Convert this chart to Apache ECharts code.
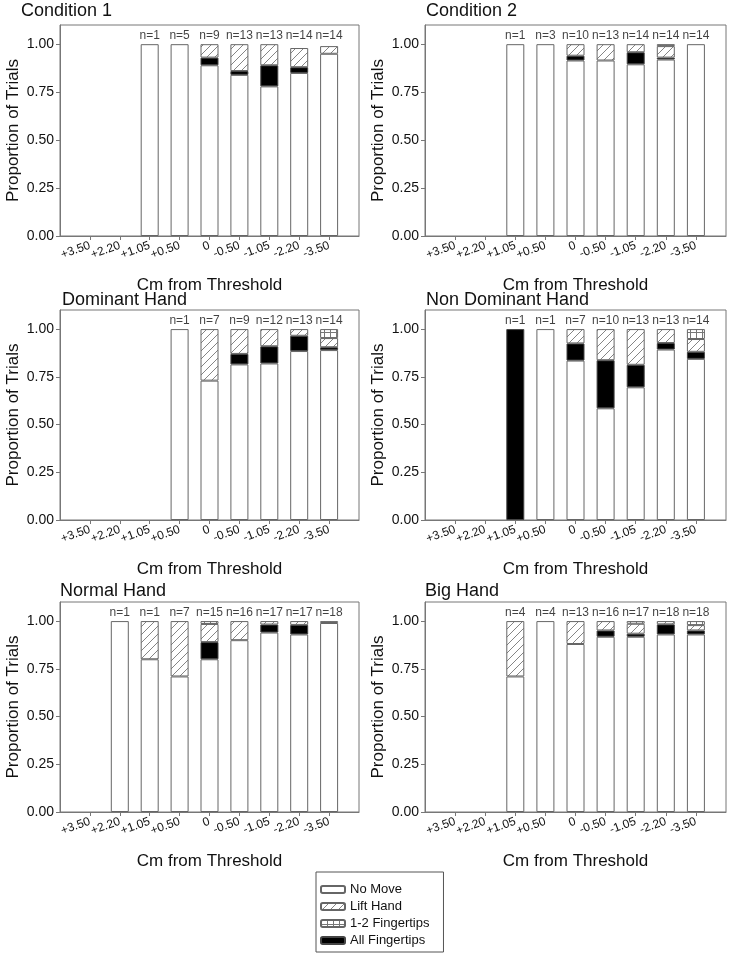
<!DOCTYPE html>
<html><head><meta charset="utf-8">
<script src="https://cdn.jsdelivr.net/npm/echarts@6/dist/echarts.min.js"></script>
<style>html,body{margin:0;padding:0;background:#fff}#c{width:750px;height:959px}</style>
</head><body><div id="c"></div>
<script>
// ---- data ----
const categories = ['+3.50','+2.20','+1.05','+0.50','0','-0.50','-1.05','-2.20','-3.50'];
const legendOrder = ['No Move','Lift Hand','1-2 Fingertips','All Fingertips'];
const panelTitles = ['Condition 1','Condition 2','Dominant Hand','Non Dominant Hand','Normal Hand','Big Hand'];

const cond1NoMove        = [0,0,1,1,0.89,0.84,0.78,0.85,0.95];
const cond1AllFingertips = [0,0,0,0,0.04,0.02,0.11,0.03,0];
const cond1LiftHand      = [0,0,0,0,0.07,0.14,0.11,0.10,0.04];
const cond1Fingertips12  = [0,0,0,0,0,0,0,0,0];
const cond1N             = [null,null,1,5,9,13,13,14,14];

const cond2NoMove        = [0,0,1,1,0.915,0.915,0.895,0.92,1];
const cond2AllFingertips = [0,0,0,0,0.025,0,0.063,0.01,0];
const cond2LiftHand      = [0,0,0,0,0.06,0.085,0.042,0.06,0];
const cond2Fingertips12  = [0,0,0,0,0,0,0,0.01,0];
const cond2N             = [null,null,1,3,10,13,14,14,14];

const domNoMove          = [0,0,0,1,0.73,0.815,0.82,0.885,0.89];
const domAllFingertips   = [0,0,0,0,0,0.055,0.09,0.08,0.015];
const domLiftHand        = [0,0,0,0,0.27,0.13,0.09,0.035,0.048];
const domFingertips12    = [0,0,0,0,0,0,0,0,0.047];
const domN               = [null,null,null,1,7,9,12,13,14];

const nonDomNoMove        = [0,0,0,1,0.835,0.585,0.695,0.893,0.844];
const nonDomAllFingertips = [0,0,1,0,0.09,0.252,0.118,0.034,0.037];
const nonDomLiftHand      = [0,0,0,0,0.075,0.163,0.187,0.073,0.067];
const nonDomFingertips12  = [0,0,0,0,0,0,0,0,0.052];
const nonDomN             = [null,null,1,1,7,10,13,13,14];

const normNoMove         = [0,1,0.8,0.71,0.8,0.9,0.94,0.93,0.99];
const normAllFingertips  = [0,0,0,0,0.09,0,0.042,0.05,0];
const normLiftHand       = [0,0,0.2,0.29,0.095,0.1,0.018,0.02,0];
const normFingertips12   = [0,0,0,0,0.015,0,0,0,0.01];
const normN              = [null,1,1,7,15,16,17,17,18];

const bigNoMove          = [0,0,0.71,1,0.88,0.918,0.918,0.93,0.93];
const bigAllFingertips   = [0,0,0,0,0,0.033,0.016,0.053,0.021];
const bigLiftHand        = [0,0,0.29,0,0.12,0.049,0.052,0.017,0.028];
const bigFingertips12    = [0,0,0,0,0,0,0.014,0,0.021];
const bigN               = [null,null,4,4,13,16,17,18,18];

const panels = [
  {noMove: cond1NoMove, all: cond1AllFingertips, lift: cond1LiftHand, f12: cond1Fingertips12, n: cond1N},
  {noMove: cond2NoMove, all: cond2AllFingertips, lift: cond2LiftHand, f12: cond2Fingertips12, n: cond2N},
  {noMove: domNoMove, all: domAllFingertips, lift: domLiftHand, f12: domFingertips12, n: domN},
  {noMove: nonDomNoMove, all: nonDomAllFingertips, lift: nonDomLiftHand, f12: nonDomFingertips12, n: nonDomN},
  {noMove: normNoMove, all: normAllFingertips, lift: normLiftHand, f12: normFingertips12, n: normN},
  {noMove: bigNoMove, all: bigAllFingertips, lift: bigLiftHand, f12: bigFingertips12, n: bigN}
];

// ---- patterns ----
function hatchCanvas() {
  const c = document.createElement('canvas'); c.width = 8; c.height = 8;
  const g = c.getContext('2d');
  g.fillStyle = '#fff'; g.fillRect(0,0,8,8);
  g.strokeStyle = '#777'; g.lineWidth = 0.9;
  g.beginPath();
  g.moveTo(-1,9); g.lineTo(9,-1);
  g.moveTo(-1,1); g.lineTo(1,-1);
  g.moveTo(7,9); g.lineTo(9,7);
  g.stroke();
  return c;
}
function gridCanvas() {
  const c = document.createElement('canvas'); c.width = 6; c.height = 8;
  const g = c.getContext('2d');
  g.fillStyle = '#fff'; g.fillRect(0,0,6,8);
  g.strokeStyle = '#777'; g.lineWidth = 1;
  g.beginPath();
  g.moveTo(0.5,0); g.lineTo(0.5,8);
  g.moveTo(0,4.5); g.lineTo(6,4.5);
  g.stroke();
  return c;
}
const hatchPattern = {image: hatchCanvas(), repeat: 'repeat'};
const gridPattern = {image: gridCanvas(), repeat: 'repeat'};

// ---- layout ----
const colLeft = [60, 425], colWidth = [299, 301];
const rowTop = [25, 310, 602], rowHeight = [211, 210, 210];
const titleLeft = [21, 426, 62, 426, 60, 425];
const titleTop = [2, 2, 291, 291, 582, 582];

const axisGray = '#777';
const textColor = '#111';
const FONT = 'Liberation Sans, Arial, sans-serif';
const xData = [''].concat(categories, ['']);
const pad = arr => ['-'].concat(arr.map(v => (v === 0 || v === null) ? '-' : v), ['-']);

const grid = [], xAxis = [], yAxis = [], series = [], title = [];
panels.forEach((p, i) => {
  const col = i % 2, row = Math.floor(i / 2);
  grid.push({left: colLeft[col], top: rowTop[row], width: colWidth[col], height: rowHeight[row],
    show: true, borderColor: axisGray, borderWidth: 1, backgroundColor: 'transparent', containLabel: false});
  title.push({text: panelTitles[i], left: titleLeft[i], top: titleTop[i], padding: 0,
    textStyle: {fontFamily: FONT, fontSize: 18, fontWeight: 'normal', color: textColor}});
  xAxis.push({type: 'category', gridIndex: i, data: xData, boundaryGap: false,
    axisLine: {lineStyle: {color: axisGray, width: 1}},
    axisTick: {show: true, length: 4, lineStyle: {color: axisGray},
      interval: idx => idx > 0 && idx < xData.length - 1},
    axisLabel: {interval: 0, rotate: 20, fontSize: 12, color: textColor, margin: 9, fontFamily: FONT},
    splitLine: {show: false},
    name: 'Cm from Threshold', nameLocation: 'middle', nameGap: 41,
    nameTextStyle: {fontSize: 17, color: textColor, fontFamily: FONT}});
  yAxis.push({type: 'value', gridIndex: i, min: 0, max: 1.1, interval: 0.25,
    axisLine: {show: true, lineStyle: {color: axisGray, width: 1}},
    axisTick: {show: true, length: 4, lineStyle: {color: axisGray}, customValues: [0, 0.25, 0.5, 0.75, 1]},
    axisLabel: {fontSize: 14, color: textColor, margin: 6, formatter: v => v.toFixed(2),
      customValues: [0, 0.25, 0.5, 0.75, 1], fontFamily: FONT},
    splitLine: {show: false},
    name: 'Proportion of Trials', nameLocation: 'middle', nameGap: 38,
    nameTextStyle: {fontSize: 17, color: textColor, fontFamily: FONT}});
  const stack = 's' + i;
  const base = {type: 'bar', xAxisIndex: i, yAxisIndex: i, stack: stack, barWidth: 18, silent: true};
  series.push(Object.assign({}, base, {name: 'No Move', data: pad(p.noMove),
    itemStyle: {color: '#fff', borderColor: '#666', borderWidth: 1}}));
  series.push(Object.assign({}, base, {name: 'All Fingertips', data: pad(p.all),
    itemStyle: {color: '#000', borderColor: '#444', borderWidth: 1}}));
  series.push(Object.assign({}, base, {name: 'Lift Hand', data: pad(p.lift),
    itemStyle: {color: hatchPattern, borderColor: '#666', borderWidth: 1}}));
  series.push(Object.assign({}, base, {name: '1-2 Fingertips', data: pad(p.f12),
    itemStyle: {color: gridPattern, borderColor: '#666', borderWidth: 1}}));
  series.push({type: 'scatter', xAxisIndex: i, yAxisIndex: i, silent: true, symbolSize: 1,
    itemStyle: {color: 'rgba(0,0,0,0)'}, z: 5,
    data: ['-'].concat(p.n.map(v => v === null ? '-' : 1.0), ['-']),
    label: {show: true, position: 'top', distance: 2, fontSize: 12, color: textColor,
      fontFamily: FONT,
      formatter: prm => 'n=' + p.n[prm.dataIndex - 1]}});
});

const chart = echarts.init(document.getElementById('c'), null, {renderer: 'canvas'});
chart.setOption({
  animation: false,
  backgroundColor: '#fff',
  textStyle: {fontFamily: FONT},
  title: title,
  grid: grid, xAxis: xAxis, yAxis: yAxis, series: series,
  legend: {data: legendOrder, orient: 'vertical', left: 316, top: 872, selectedMode: false,
    itemWidth: 24, itemHeight: 7, itemGap: 4,
    textStyle: {fontSize: 13, color: textColor},
    borderColor: '#555', borderWidth: 1, padding: [11, 14, 5, 4]}
});
</script></body></html>
